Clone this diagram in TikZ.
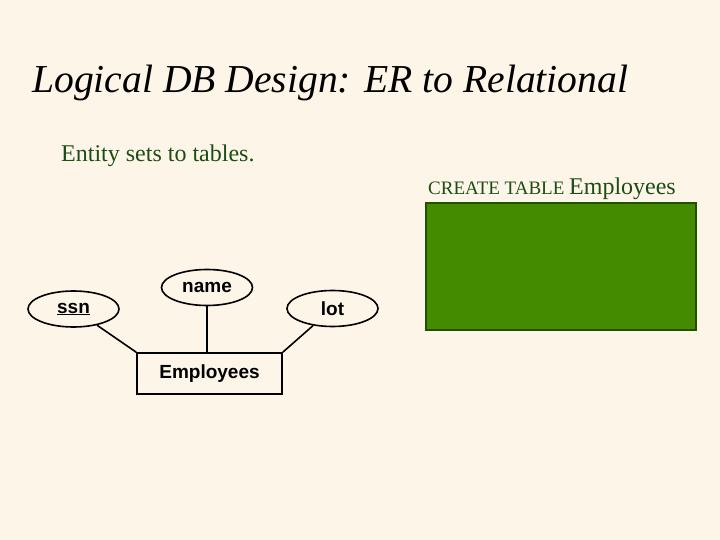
\documentclass[tikz,border=0pt]{standalone}
\usepackage{fontspec}
\setmainfont{Liberation Serif}
\newfontfamily\erfont{Liberation Sans}
\usetikzlibrary{shapes.geometric}
\definecolor{slidebg}{HTML}{FEF5E9}
\definecolor{textgreen}{HTML}{1C4D14}
\definecolor{tablefill}{HTML}{448B00}
\definecolor{tableedge}{HTML}{1E5200}
\begin{document}
\begin{tikzpicture}[
      x=1bp, y=-1bp,
      attr/.style={draw, ellipse, line width=1.6bp, inner sep=0pt,
        minimum width=91bp, minimum height=36bp,
        font=\erfont\bfseries\fontsize{19bp}{22bp}\selectfont},
      entity/.style={draw, rectangle, line width=1.6bp, inner sep=0pt,
        minimum width=145bp, minimum height=41bp,
        font=\erfont\bfseries\fontsize{19bp}{22bp}\selectfont},
      link/.style={line width=1.6bp},
    ]
    \fill[slidebg] (0,0) rectangle (720,540);
    \useasboundingbox (0,0) rectangle (720,540);
    \node[anchor=base west, inner sep=0pt, font=\itshape\fontsize{39.6bp}{48bp}\selectfont]
      (title) at (32,93) {Logical DB Design: ER to Relational};
    \node[anchor=base west, inner sep=0pt, text=textgreen, font=\fontsize{24bp}{28bp}\selectfont]
      (intro) at (61,162) {Entity sets to tables.};
    \node[anchor=base west, inner sep=0pt, text=textgreen]
      (create) at (428,195) {\fontsize{19bp}{22bp}\selectfont CREATE TABLE \fontsize{24bp}{28bp}\selectfont Employees};
    \node[draw=tableedge, fill=tablefill, line width=2bp, inner sep=0pt,
      minimum width=270bp, minimum height=127bp] (table) at (561,266.5) {};
    % ER diagram
    \node[entity] (emp) at (209.5,373.5) {Employees};
    \node[attr] (ssn) at (73.5,309) {\underline{ssn}};
    \node[attr] (name) at (207,287.5) {name};
    \node[attr] (lot) at (332.5,308.5) {lot};
    \draw[link] (ssn) -- (emp.north west);
    \draw[link] (name) -- (name |- emp.north);
    \draw[link] (lot) -- (emp.north east);
  \end{tikzpicture}
\end{document}
